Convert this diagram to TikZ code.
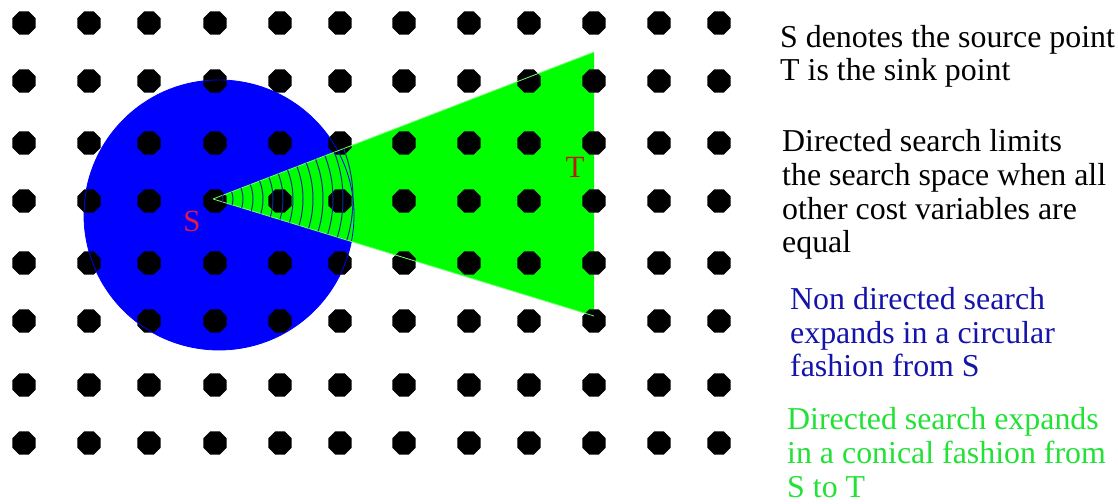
\documentclass[tikz,border=0pt]{standalone}
\usepackage{fontspec}
\setmainfont{Liberation Serif}
\usetikzlibrary{shapes.geometric}
\definecolor{conegreen}{RGB}{0,255,0}
\definecolor{discblue}{RGB}{0,0,255}
\definecolor{ringblue}{RGB}{10,45,150}
\definecolor{srcred}{RGB}{225,25,70}
\definecolor{sinkred}{RGB}{190,25,10}
\definecolor{noteblue}{RGB}{20,20,170}
\definecolor{notegreen}{RGB}{35,225,55}
\newcommand{\disc}{(219,215) circle (135)}
\newcommand{\cone}{(213,199) -- (594,52) -- (594,316) -- cycle}
\tikzset{
  griddot/.style={regular polygon,regular polygon sides=8,fill=black,
    inner sep=0pt,minimum size=25bp},
  note/.style={anchor=base west,align=left,inner sep=0pt,
    font=\fontsize{32}{34}\selectfont},
  pointlabel/.style={inner sep=0pt,font=\fontsize{31}{31}\selectfont}}

\begin{document}
\begin{tikzpicture}[x=1bp,y=-1bp]
    \useasboundingbox[fill=white] (0,0) rectangle (1118,504);
    % filled search regions
    \fill[discblue] \disc;  \fill[conegreen] \cone;
    % grid of points
    \foreach \px [count=\i] in {24,89,149,215,280,340,404,469,529,594,659,719}
      \foreach \py [count=\j] in {23,81,143,201,263,321,385,443}
        \node[griddot] (p-\i-\j) at (\px,\py) {};
    % outlines over the points
    \draw[discblue,line width=0.8bp] \disc;
    \draw[conegreen!55!white,line width=0.8bp] (213,199) -- (594,52) (213,199) -- (594,316);
    % wavefronts of the directed search
    \coordinate (src) at (213,199);
    \begin{scope}\clip \cone;
      \foreach \r in {10,20,...,140} \draw[ringblue,line width=1bp] (src) circle (\r);
    \end{scope}
    \node[pointlabel,srcred]  (S) at (192,221) {S};
    \node[pointlabel,sinkred] (T) at (575,167) {T};
    % notes (anchored at the baseline of their last line)
    \node[note] (legend) at (780,81) {S denotes the source point\\T is the sink point};
    \node[note] (limits) at (782,253) {Directed search limits\\the search space when all\\other cost variables are\\equal};
    \node[note,noteblue] (circular) at (790,377) {Non directed search\\expands in a circular\\fashion from S};
    \node[note,notegreen] (conical) at (787,497) {Directed search expands\\in a conical fashion from\\S to T};
\end{tikzpicture}
\end{document}
